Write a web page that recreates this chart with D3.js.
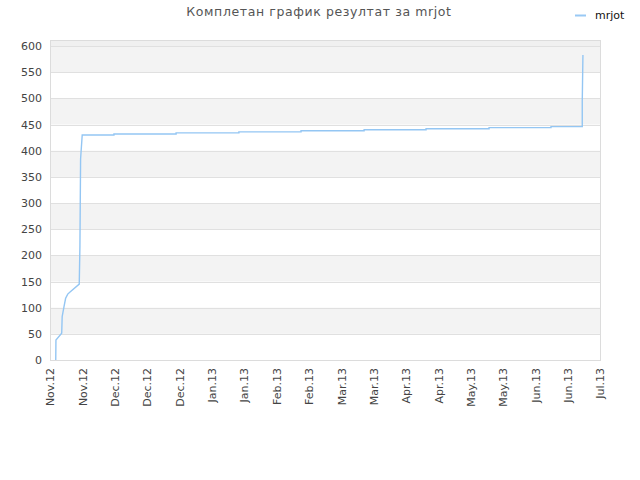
<!DOCTYPE html>
<html>
<head>
<meta charset="utf-8">
<script src="https://cdn.jsdelivr.net/npm/d3@7"></script>
<style>
  body { margin: 0; background: #fff; }
  text { font-family: "DejaVu Sans", sans-serif; }
</style>
</head>
<body>
<svg id="fig"></svg>
<script>
// points of the score line (two entries on one date = a jump)
const dates = [
    '2012-11-07T12:00', '2012-11-07T14:00', '2012-11-10T02:00', '2012-11-10T07:00',
    '2012-11-11T02:00', '2012-11-11T19:00', '2012-11-12T17:00', '2012-11-13T17:00',
    '2012-11-17T17:00', '2012-11-18T00:00', '2012-11-18T07:00', '2012-11-19T00:00',
    '2012-12-02T19:00', '2012-12-02T19:00', '2012-12-29T19:00', '2012-12-29T19:00',
    '2013-01-26T02:00', '2013-01-26T02:00', '2013-02-22T02:00', '2013-02-22T02:00',
    '2013-03-21T12:00', '2013-03-21T12:00', '2013-04-17T10:00', '2013-04-17T10:00',
    '2013-05-14T19:00', '2013-05-14T19:00', '2013-06-10T17:00', '2013-06-10T17:00',
    '2013-06-24T07:00', '2013-06-24T07:00', '2013-06-24T14:00'
];
const values = [
    0, 38, 51, 83,
    102, 118, 126, 130,
    145, 216, 384, 430,
    430, 432, 432, 434,
    434, 436, 436, 438,
    438, 440, 440, 442,
    442, 444, 444, 446,
    446, 495, 583
];
const xTickLabels = ['Nov.12', 'Nov.12', 'Dec.12', 'Dec.12', 'Dec.12', 'Jan.13', 'Jan.13',
    'Feb.13', 'Feb.13', 'Mar.13', 'Mar.13', 'Apr.13', 'Apr.13', 'May.13', 'May.13',
    'Jun.13', 'Jun.13', 'Jul.13'];
const yTicks = [0, 50, 100, 150, 200, 250, 300, 350, 400, 450, 500, 550, 600];
const xStart = '2012-11-05T00:00';
const xEnd = '2013-07-02T00:00';
const seriesName = 'mrjot';
const title = 'Комплетан график резултат за mrjot';

function render(svgTag, width, height) {
    const parse = d3.timeParse('%Y-%m-%dT%H:%M');
    const data = dates.map((d, i) => ({ date: parse(d), value: values[i] }));

    const margin = { top: 40, right: 40, bottom: 120, left: 50 };
    const innerWidth = width - margin.left - margin.right;
    const innerHeight = height - margin.top - margin.bottom;

    const x0 = parse(xStart), x1 = parse(xEnd);
    const xScale = d3.scaleTime().domain([x0, x1]).range([0, innerWidth]);
    const yScale = d3.scaleLinear().domain([0, 611.5]).range([innerHeight, 0]);

    const svg = d3.select(svgTag).attr('width', width).attr('height', height);

    svg.append('text')
        .attr('x', 319).attr('y', 16)
        .attr('text-anchor', 'middle')
        .attr('font-size', 12.5)
        .attr('letter-spacing', 0.6)
        .attr('fill', '#555')
        .text(title);

    // legend
    svg.append('line')
        .attr('x1', 575).attr('x2', 586).attr('y1', 15.5).attr('y2', 15.5)
        .attr('stroke', '#99c9f4').attr('stroke-width', 2);
    svg.append('text')
        .attr('x', 595).attr('y', 19)
        .attr('font-size', 11).attr('fill', '#111')
        .text(seriesName);

    const g = svg.append('g')
        .attr('transform', `translate(${margin.left},${margin.top})`);

    // alternating bands
    g.append('rect')
        .attr('x', 0).attr('y', 0)
        .attr('width', innerWidth).attr('height', yScale(600))
        .attr('fill', '#f0f0f0');
    const bands = yTicks.filter((t, i) => i % 2 === 1);
    g.selectAll('rect.band').data(bands).enter().append('rect')
        .attr('class', 'band')
        .attr('x', 0).attr('y', d => yScale(d + 50))
        .attr('width', innerWidth)
        .attr('height', d => yScale(d) - yScale(d + 50))
        .attr('fill', '#f3f3f3');

    // grid
    g.selectAll('line.grid').data(yTicks.slice(1)).enter().append('line')
        .attr('class', 'grid')
        .attr('x1', 0).attr('x2', innerWidth)
        .attr('y1', d => Math.round(yScale(d)) + 0.5)
        .attr('y2', d => Math.round(yScale(d)) + 0.5)
        .attr('stroke', '#e0e0e0');

    g.append('rect')
        .attr('x', 0.5).attr('y', 0.5)
        .attr('width', innerWidth).attr('height', innerHeight)
        .attr('fill', 'none').attr('stroke', '#dcdcdc');

    // y axis
    const yAxis = g.append('g')
        .call(d3.axisLeft(yScale).tickValues(yTicks).tickSize(0).tickPadding(8));
    yAxis.select('.domain').remove();
    yAxis.selectAll('text').attr('font-size', 11).attr('fill', '#444')
        .attr('font-family', '"DejaVu Sans", sans-serif');

    // x axis: evenly spaced label positions
    const step = (x1 - x0) / (xTickLabels.length - 1);
    const xTicks = xTickLabels.map((l, i) => new Date(+x0 + i * step));
    const xAxis = g.append('g')
        .attr('transform', `translate(0,${innerHeight})`)
        .call(d3.axisBottom(xScale).tickValues(xTicks).tickSize(0)
            .tickFormat((d, i) => xTickLabels[i]));
    xAxis.select('.domain').remove();
    xAxis.selectAll('text')
        .attr('font-size', 11).attr('fill', '#444')
        .attr('font-family', '"DejaVu Sans", sans-serif')
        .attr('text-anchor', 'end')
        .attr('dy', '0.35em')
        .attr('transform', 'translate(0,8) rotate(-90)')
        .attr('x', 0).attr('y', 0);

    const line = d3.line()
        .x(d => xScale(d.date))
        .y(d => yScale(d.value));
    g.append('path')
        .datum(data)
        .attr('d', line)
        .attr('fill', 'none')
        .attr('stroke', '#94c6f3')
        .attr('stroke-width', 1.4);
}

render('#fig', 640, 480);
</script>
</body>
</html>
